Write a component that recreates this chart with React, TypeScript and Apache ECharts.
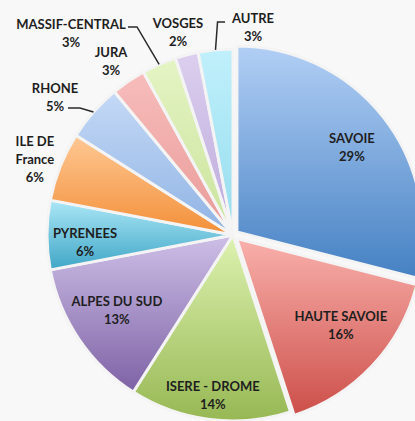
import React, { useEffect, useRef } from 'react';
import * as echarts from 'echarts';

// ---- data ----
const categories = [
  'SAVOIE',
  'HAUTE SAVOIE',
  'ISERE - DROME',
  'ALPES DU SUD',
  'PYRENEES',
  'ILE DE\nFrance',
  'RHONE',
  'JURA',
  'MASSIF-CENTRAL',
  'VOSGES',
  'AUTRE',
];
const shares = [29, 16, 14, 13, 6, 6, 5, 3, 3, 2, 3];

// ---- styles ----
const topColors = ['#b2cff5', '#f9b0ac', '#ddf2b0', '#cdbfe7', '#ace7f7', '#fec894', '#c4d9f6', '#f7bdbb', '#e5f4c4', '#dccfee', '#c0f0fb'];
const bottomColors = ['#4581c3', '#cd4f49', '#97b854', '#7e62a5', '#3fa6c6', '#f38f38', '#8fb3e4', '#e89a98', '#c9e39b', '#bba9dc', '#94dcee'];
const exploded = [true, true, false, false, false, false, false, false, false, false, false];
const showLine = [false, false, false, false, false, false, true, false, true, false, true];
// label placement: distance from centre along slice mid-angle, plus a nudge
const labelRadius = [148, 141, 161, 138, 148, 212, 222, 212, 210, 210, 210];
const labelNudge: number[][] = [[2, 3], [5, -6.5], [0, 0], [-2, -2.6], [0, 6.5], [-1, 2], [-11.5, 8.8], [-2.8, 1.3], [-78.6, -9.3], [-2.8, 0.4], [39.8, 0.6]];
// leader line bend / end relative to label centre
const lineBend: (number[] | null)[] = [null, null, null, null, null, null, [25, 11], null, [66, -6], null, [-35.5, -4.5]];
const lineEnd: (number[] | null)[] = [null, null, null, null, null, null, [13, 11], null, [57, -6], null, [-28, -4.5]];

const CX = 233;
const CY = 235;
const R = 186;

function midAngles(): number[] {
  const total = shares.reduce((a, b) => a + b, 0);
  let acc = 0;
  return shares.map((v) => {
    const startCw = (acc / total) * 360;
    acc += v;
    const endCw = (acc / total) * 360;
    const midCw = (startCw + endCw) / 2;
    return ((90 - midCw) * Math.PI) / 180;
  });
}

export default function App() {
  const ref = useRef<HTMLDivElement>(null);
  useEffect(() => {
    if (!ref.current) return;
    const chart = echarts.init(ref.current, null, { renderer: 'svg' });
    const mids = midAngles();
    const sliceData = categories.map((name, i) => ({
      name,
      value: shares[i],
      selected: exploded[i],
      itemStyle: {
        color: new echarts.graphic.LinearGradient(0, 0, 0, 1, [
          { offset: 0, color: topColors[i] },
          { offset: 1, color: bottomColors[i] },
        ]),
      },
    }));
    const labelData = categories.map((name, i) => ({
      name,
      value: shares[i],
      labelLine: { show: showLine[i] },
    }));
    const option = {
      animation: false,
      backgroundColor: '#f8f8f8',
      series: [
        {
          type: 'pie',
          z: 2,
          center: [CX, CY],
          radius: R,
          startAngle: 90,
          clockwise: true,
          selectedMode: 'multiple',
          selectedOffset: 5,
          silent: true,
          itemStyle: {
            borderColor: '#f4f4f4',
            borderWidth: 3,
          },
          label: { show: false },
          labelLine: { show: false },
          data: sliceData,
        },
        {
          type: 'pie',
          z: 10,
          center: [CX, CY],
          radius: R,
          startAngle: 90,
          clockwise: true,
          silent: true,
          avoidLabelOverlap: false,
          itemStyle: { color: 'rgba(0,0,0,0)', borderWidth: 0 },
          label: {
            show: true,
            position: 'outside',
            formatter: (p: any) => `${p.name}\n${p.value}%`,
            fontFamily: 'Lato',
            fontWeight: 'bold',
            fontSize: 13,
            lineHeight: 18,
            color: '#1e1e1e',
            align: 'center',
          },
          labelLine: {
            show: true,
            length: 10,
            length2: 10,
            lineStyle: { color: '#2a2a2a', width: 1.5 },
          },
          labelLayout: (params: any) => {
            const i = params.dataIndex;
            const a = mids[i];
            const x = CX + labelRadius[i] * Math.cos(a) + labelNudge[i][0];
            const y = CY - labelRadius[i] * Math.sin(a) + labelNudge[i][1];
            const res: any = { x, y, align: 'center', verticalAlign: 'middle' };
            const b = lineBend[i];
            const e = lineEnd[i];
            if (b && e) {
              res.labelLinePoints = [
                [CX + R * Math.cos(a), CY - R * Math.sin(a)],
                [x + b[0], y + b[1]],
                [x + e[0], y + e[1]],
              ];
            }
            return res;
          },
          data: labelData,
        },
      ],
    };
    chart.setOption(option as any);
    return () => chart.dispose();
  }, []);
  return (
    <div
      ref={ref}
      style={{ position: 'absolute', left: 0, top: 0, width: 415, height: 421 }}
    />
  );
}
